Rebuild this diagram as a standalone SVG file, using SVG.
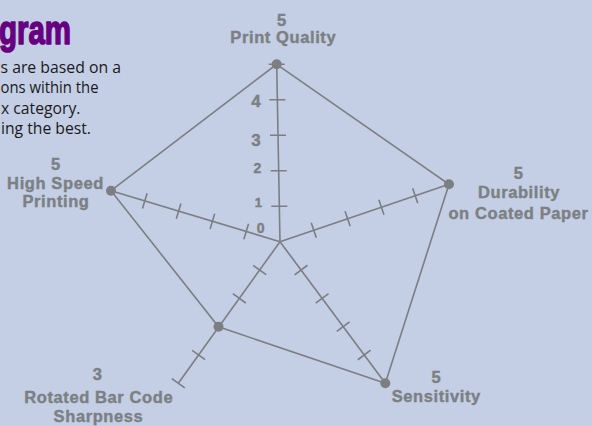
<svg xmlns="http://www.w3.org/2000/svg" width="592" height="426" viewBox="0 0 592 426">
<style>
.ax{stroke:#7b7f82;stroke-width:1.6;fill:none;stroke-linecap:butt}
.poly{stroke:#7b7f82;stroke-width:1.6;fill:none;stroke-linejoin:miter}
.dot{fill:#7b7f82}
.lbl{font-family:"Liberation Sans",Arial,sans-serif;font-weight:bold;font-size:16.5px;letter-spacing:0.6px;fill:#7b8083;stroke:#7b8083;stroke-width:0.4;text-anchor:middle}
.num{font-family:"Liberation Sans",Arial,sans-serif;font-weight:bold;fill:#7b8083;stroke:#7b8083;stroke-width:0.4;text-anchor:middle}
.para{font-family:"Open Sans","Liberation Sans",sans-serif;font-size:15.5px;fill:#1a1a1a}
</style>
<rect width="592" height="426" fill="#c4cee5"/>
<g id="title">
<text x="71" y="43.5" font-family="'Liberation Sans',sans-serif" font-weight="bold" font-size="40" fill="#660080" stroke="#660080" stroke-width="1.6" stroke-linejoin="round" text-anchor="end" textLength="72" lengthAdjust="spacingAndGlyphs">gram</text>
</g>
<g id="description">
<text class="para" x="0.5" y="72.5" textLength="120.5" lengthAdjust="spacingAndGlyphs">s are based on a</text>
<text class="para" x="0.5" y="93" textLength="98" lengthAdjust="spacingAndGlyphs">ons within the</text>
<text class="para" x="1" y="113.5" textLength="79.5" lengthAdjust="spacingAndGlyphs">x category.</text>
<text class="para" x="1" y="134" textLength="90" lengthAdjust="spacingAndGlyphs">ing the best.</text>
</g>
<g id="connectors">
<g id="axes">
<line class="ax" x1="280" y1="241.7" x2="276.7" y2="64.3"/>
<line class="ax" x1="280" y1="241.7" x2="449" y2="184.3"/>
<line class="ax" x1="280" y1="241.7" x2="385.3" y2="383.3"/>
<line class="ax" x1="280" y1="241.7" x2="178.3" y2="383.3"/>
<line class="ax" x1="280" y1="241.7" x2="111" y2="190.7"/>
</g>
<g id="ticks">
<path class="ax" d="M271.3 206.3H287.3M270.7 170.8H286.7M270 135.3H286M269.4 99.8H285.4M268.7 64.3H284.7"/>
<path class="ax" d="M311.23 222.64L316.37 237.8M345.03 211.16L350.17 226.32M378.83 199.68L383.97 214.84M412.63 188.2L417.77 203.36"/>
<path class="ax" d="M294.64 274.79L307.48 265.25M315.7 303.11L328.54 293.57M336.76 331.43L349.6 321.89M357.82 359.75L370.66 350.21"/>
<path class="ax" d="M253.16 265.35L266.16 274.69M232.82 293.67L245.82 303.01M192.14 350.31L205.14 359.65M171.8 378.63L184.8 387.97"/>
<path class="ax" d="M248.51 223.84L243.89 239.16M214.71 213.64L210.09 228.96M180.91 203.44L176.29 218.76M147.11 193.24L142.49 208.56"/>
</g>
<polygon id="score" class="poly" points="276.7,64.3 449,184.3 385.3,383.3 218.5,326.8 111,190.7"/>
</g>
<g id="scale">
<text class="num" x="256" y="106.5" font-size="17">4</text>
<text class="num" x="256" y="146" font-size="17">3</text>
<text class="num" x="257.3" y="173.3" font-size="14">2</text>
<text class="num" x="258.3" y="206.7" font-size="13">1</text>
<text class="num" x="260.7" y="232.5" font-size="14">0</text>
</g>
<g id="node-print-quality">
<circle class="dot" cx="276.7" cy="64.3" r="5"/>
<text class="lbl" x="282" y="25.5">5</text>
<text class="lbl" x="283.3" y="43">Print Quality</text>
</g>
<g id="node-durability">
<circle class="dot" cx="449" cy="184.3" r="5"/>
<text class="lbl" x="518.7" y="179">5</text>
<text class="lbl" x="519" y="198">Durability</text>
<text class="lbl" x="518.5" y="218.5">on Coated Paper</text>
</g>
<g id="node-sensitivity">
<circle class="dot" cx="385.3" cy="383.3" r="5"/>
<text class="lbl" x="436.3" y="383">5</text>
<text class="lbl" x="436.3" y="401.7">Sensitivity</text>
</g>
<g id="node-rotated-bar-code">
<circle class="dot" cx="218.5" cy="326.8" r="5"/>
<text class="lbl" x="97.7" y="380">3</text>
<text class="lbl" x="98.7" y="402.5">Rotated Bar Code</text>
<text class="lbl" x="98.5" y="421.5">Sharpness</text>
</g>
<g id="node-high-speed">
<circle class="dot" cx="111" cy="190.7" r="5"/>
<text class="lbl" x="56" y="170">5</text>
<text class="lbl" x="55.5" y="188.5">High Speed</text>
<text class="lbl" x="56" y="207">Printing</text>
</g>
</svg>
